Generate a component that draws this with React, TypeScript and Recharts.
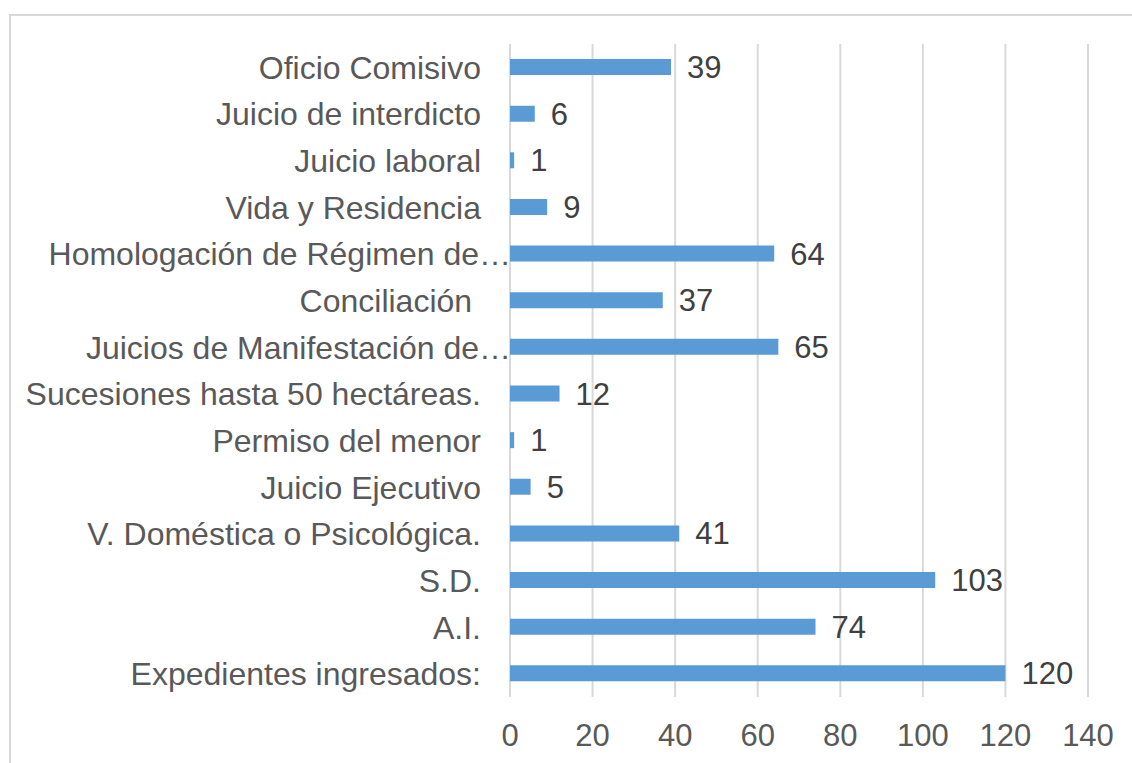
import { Bar, BarChart, CartesianGrid, LabelList, XAxis, YAxis } from "recharts"

// categories listed top to bottom, as they appear in the chart
const categories = [
    "Oficio Comisivo",
    "Juicio de interdicto",
    "Juicio laboral",
    "Vida y Residencia",
    "Homologación de Régimen de…",
    "Conciliación\u00A0",
    "Juicios de Manifestación de…",
    "Sucesiones hasta 50 hectáreas.",
    "Permiso del menor",
    "Juicio Ejecutivo",
    "V. Doméstica o Psicológica.",
    "S.D.",
    "A.I.",
    "Expedientes ingresados:",
]

const counts = [39, 6, 1, 9, 64, 37, 65, 12, 1, 5, 41, 103, 74, 120]

const xTicks = [0, 20, 40, 60, 80, 100, 120, 140]

const FONT = "'Liberation Sans', Arial, sans-serif"

const data = categories.map((name, i) => ({ name, value: counts[i] }))

// right-aligned category label; clipped labels run up to the axis like in Excel
function CategoryTick(props: any) {
    const { x, y, payload } = props
    const label: string = payload.value
    const cut = label.endsWith("…")
    return (
        <text
            x={cut ? x + 9 : x - 21}
            y={y}
            dy="0.36em"
            textAnchor="end"
            fill="#595959"
            fontSize={32}
            fontFamily={FONT}
            style={{ whiteSpace: "pre" }}
        >
            {label}
        </text>
    )
}

export default function App() {
    return (
        <div style={{ position: "absolute", left: 0, top: 0, width: 1132, height: 763, overflow: "hidden", background: "#fff" }}>
            <div
                style={{
                    position: "absolute",
                    left: 9,
                    top: 14,
                    width: 1200,
                    height: 800,
                    border: "2px solid #d9d9d9",
                    boxSizing: "border-box",
                }}
            />
            <div style={{ position: "absolute", left: 0, top: 0 }}>
                <BarChart
                    width={1132}
                    height={763}
                    data={data}
                    layout="vertical"
                    margin={{ top: 44, right: 44, bottom: 16, left: 10 }}
                    barCategoryGap={0}
                >
                    <CartesianGrid horizontal={false} stroke="#d9d9d9" strokeWidth={2} />
                    <XAxis
                        type="number"
                        domain={[0, 140]}
                        ticks={xTicks}
                        interval={0}
                        height={50}
                        tickLine={false}
                        axisLine={false}
                        tickSize={0}
                        tickMargin={27}
                        tick={{ fill: "#595959", fontSize: 31, fontFamily: FONT }}
                    />
                    <YAxis
                        type="category"
                        dataKey="name"
                        width={500}
                        interval={0}
                        tickLine={false}
                        axisLine={false}
                        tick={<CategoryTick />}
                    />
                    <Bar dataKey="value" fill="#5b9bd5" barSize={16} isAnimationActive={false}>
                        <LabelList
                            dataKey="value"
                            position="right"
                            offset={16}
                            fill="#404040"
                            fontSize={31}
                            fontFamily={FONT}
                        />
                    </Bar>
                </BarChart>
            </div>
        </div>
    )
}
